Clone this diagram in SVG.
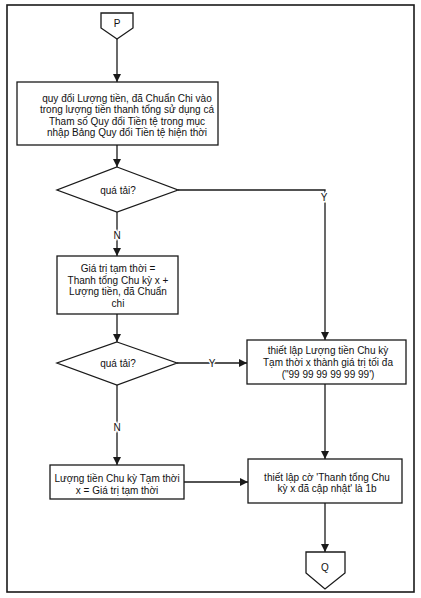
<svg xmlns="http://www.w3.org/2000/svg" width="421" height="598" viewBox="0 0 421 598">
<defs>
<style>
.frame{fill:none;stroke:#1a1a1a;stroke-width:1.6}
.box{fill:#fff;stroke:#1a1a1a;stroke-width:1.3}
.ln{fill:none;stroke:#1a1a1a;stroke-width:1.3}
text{font-family:"Liberation Sans",Arial,sans-serif;font-size:10px;fill:#111;text-anchor:middle}
.lbl{paint-order:stroke;stroke:#fff;stroke-width:3px}
</style>
<marker id="ah" viewBox="0 0 10 10" refX="10" refY="5" markerWidth="8" markerHeight="8" markerUnits="userSpaceOnUse" orient="auto">
<path d="M0,0 L10,5 L0,10 z" fill="#1a1a1a"/>
</marker>
</defs>
<rect width="421" height="598" fill="#fff"/>
<rect class="frame" x="7" y="5" width="407" height="587"/>
<g id="connectors">
<path class="ln" d="M117,39 V82" marker-end="url(#ah)"/>
<path class="ln" d="M117,145 V167" marker-end="url(#ah)"/>
<path class="ln" d="M178,190 H325 V340" marker-end="url(#ah)"/>
<path class="ln" d="M117,212 V256" marker-end="url(#ah)"/>
<path class="ln" d="M117,314 V342" marker-end="url(#ah)"/>
<path class="ln" d="M177,363 H247" marker-end="url(#ah)"/>
<path class="ln" d="M117,385 V465" marker-end="url(#ah)"/>
<path class="ln" d="M325,384 V459" marker-end="url(#ah)"/>
<path class="ln" d="M184,482 H248" marker-end="url(#ah)"/>
<path class="ln" d="M325,503 V552" marker-end="url(#ah)"/>
<text class="lbl" x="324" y="201">Y</text>
<text class="lbl" x="117" y="239">N</text>
<text class="lbl" x="212" y="367">Y</text>
<text class="lbl" x="117" y="431">N</text>
</g>
<g id="P">
<polygon class="box" points="101,13 133,13 133,28 117,39 101,28"/>
<text x="117" y="27">P</text>
</g>
<g id="convert">
<rect class="box" x="17" y="82" width="201" height="63"/>
<text x="127" y="101.5">quy đổi Lượng tiền, đã Chuẩn Chi vào</text>
<text x="127" y="113">trong lượng tiền thanh tổng sử dụng cá</text>
<text x="127" y="124.5">Tham số Quy đổi Tiền tệ trong mục</text>
<text x="127" y="136">nhập Bảng Quy đổi Tiền tệ hiện thời</text>
</g>
<g id="overload1">
<polygon class="box" points="117,167 178,190 117,212 57,190"/>
<text x="118" y="193.5">quá tải?</text>
</g>
<g id="temp">
<rect class="box" x="57" y="256" width="121" height="58"/>
<text x="118" y="271.5">Giá trị tạm thời =</text>
<text x="118" y="283.5">Thanh tổng Chu kỳ x +</text>
<text x="118" y="295">Lượng tiền, đã Chuẩn</text>
<text x="118" y="306.5">chi</text>
</g>
<g id="overload2">
<polygon class="box" points="117,342 177,363 117,385 57,363"/>
<text x="118" y="366.5">quá tải?</text>
</g>
<g id="setmax">
<rect class="box" x="247" y="340" width="159" height="44"/>
<text x="328" y="353.5">thiết lập Lượng tiền Chu kỳ</text>
<text x="328" y="365.5">Tạm thời x thành giá trị tối đa</text>
<text x="328" y="377.5">(&quot;99 99 99 99 99 99')</text>
</g>
<g id="assign">
<rect class="box" x="50" y="465" width="134" height="34"/>
<text x="117" y="481.5">Lượng tiền Chu kỳ Tạm thời</text>
<text x="117" y="493.5">x = Giá trị tạm thời</text>
</g>
<g id="setflag">
<rect class="box" x="248" y="459" width="154" height="44"/>
<text x="327" y="480.5">thiết lập cờ 'Thanh tổng Chu</text>
<text x="327" y="492">kỳ x đã cập nhật' là 1b</text>
</g>
<g id="Q">
<polygon class="box" points="306,552 345,552 345,573 325,589 306,573"/>
<text x="325" y="571">Q</text>
</g>
</svg>
